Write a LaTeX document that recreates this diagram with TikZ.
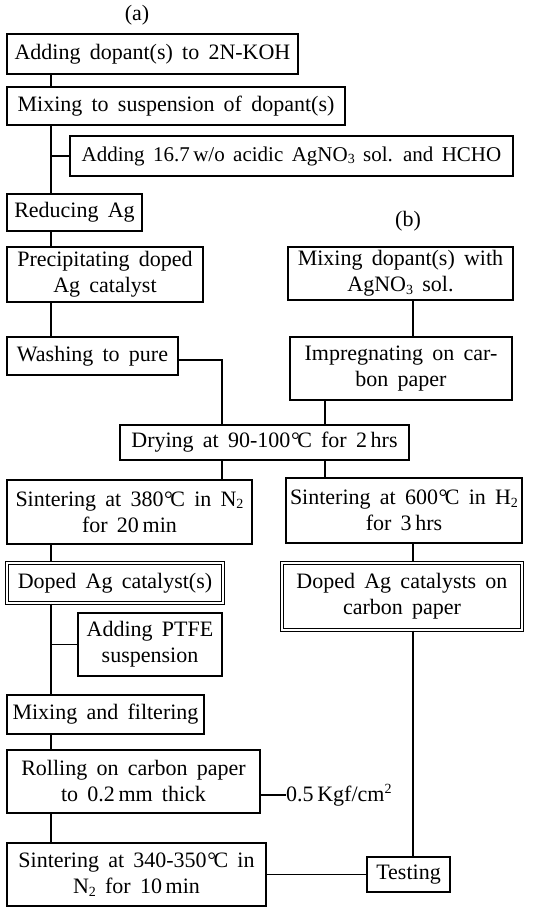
\documentclass[tikz,border=0pt]{standalone}
\usepackage{fontspec}
\setmainfont{Liberation Serif}
\newcommand\dC{\kern0.03em{°}\kern-0.12em C}
\newcommand\sbs[1]{\raisebox{-0.12em}{\fontsize{14}{14}\selectfont #1}}
\newcommand\sps[1]{\raisebox{0.38em}{\fontsize{14}{14}\selectfont #1}}
\begin{document}
\begin{tikzpicture}[x=1pt,y=-1pt,
  txt/.style={font={\fontsize{22}{26}\selectfont\spaceskip=0.42em plus 0.05em minus 0.05em\relax}},
  small/.style={font={\fontsize{21}{26}\selectfont\spaceskip=0.4em plus 0.05em minus 0.05em\relax}},
  box/.style={txt, draw, line width=1.2pt, inner sep=0pt, align=center},
  dbox/.style={box, double, double distance=1.3pt, line width=1.2pt},
  conn/.style={line width=1.2pt}]
\useasboundingbox (0,0) rectangle (536,908);
\coordinate (L) at (51,0);
\coordinate (M) at (222,0);
\coordinate (Q) at (325,0);
\coordinate (R) at (413,0);

\node[txt] (la) at (137,15) {(a)};
\node[txt] (lb) at (408,221) {(b)};

\node[box, minimum width=291, minimum height=40] (n1) at (152.5,54) {Adding dopant(s) to 2N-KOH};
\node[box, minimum width=338, minimum height=38] (n2) at (176,106) {Mixing to suspension of dopant(s)};
\node[box, small, minimum width=443, minimum height=40] (n3) at (291.5,156) {Adding 16.7\,w/o acidic AgNO\sbs{3} sol. and HCHO};
\node[box, minimum width=135, minimum height=37] (n4) at (74.5,212.5) {Reducing Ag};
\node[box, minimum width=196, minimum height=55] (n5) at (105,274.5) {Precipitating doped\\Ag catalyst};
\node[box, minimum width=171, minimum height=38] (n6) at (92.5,356) {Washing to pure};

\node[box, minimum width=225, minimum height=53] (m1) at (400.5,273.5) {Mixing dopant(s) with\\AgNO\sbs{3} sol.};
\node[box, minimum width=222, minimum height=63] (m2) at (401,368.5) {Impregnating on car-\\bon paper};

\node[box, minimum width=289, minimum height=35] (d) at (264.5,442.5) {Drying at 90-100\dC{} for 2\,hrs};

\node[box, minimum width=245, minimum height=64] (s1) at (129.5,512) {Sintering at 380\dC{} in N\sbs{2}\\for 20\,min};
\node[box, minimum width=236, minimum height=65] (s2) at (404,510.5) {Sintering at 600\dC{} in H\sbs{2}\\for 3\,hrs};

\node[dbox, minimum width=216, minimum height=40] (c1) at (115,583) {Doped Ag catalyst(s)};
\node[dbox, minimum width=240, minimum height=67] (c2) at (402,596.5) {Doped Ag catalysts on\\carbon paper};

\node[box, minimum width=144, minimum height=63] (p) at (150,644.5) {Adding PTFE\\suspension};
\node[box, minimum width=197, minimum height=39] (f) at (105.5,714.5) {Mixing and filtering};
\node[box, minimum width=253, minimum height=63] (r) at (133.5,781.5) {Rolling on carbon paper\\to 0.2\,mm thick};
\node[txt, anchor=west, inner sep=0pt] (k) at (286,795) {0.5\,Kgf/cm\sps{2}};
\node[box, minimum width=259, minimum height=63] (s3) at (136.5,874.5) {Sintering at 340-350\dC{} in\\N\sbs{2} for 10\,min};
\node[box, minimum width=83, minimum height=35] (t) at (408.5,874.5) {Testing};

% left column
\draw[conn] (n1.south -| L) -- (n2.north -| L);
\draw[conn] (n2.south -| L) -- (n4.north -| L);
\draw[conn] (n3.west -| L) -- (n3.west);
\draw[conn] (n4.south -| L) -- (n5.north -| L);
\draw[conn] (n5.south -| L) -- (n6.north -| L);
\draw[conn] ([yshift=-4pt]n6.east) -| (d.north -| M);
% right column
\draw[conn] (m1.south -| R) -- (m2.north -| R);
\draw[conn] (m2.south -| Q) -- (d.north -| Q);
\draw[conn] (d.south -| M) -- (s1.north -| M);
\draw[conn] (d.south -| Q) -- (s2.north -| Q);
\draw[conn] (s1.south -| L) -- (c1.north -| L);
\draw[conn] (s2.south -| R) -- (c2.north -| R);
\draw[conn] (c1.south -| L) -- (f.north -| L);
\draw[conn] (p.west -| L) -- (p.west);
\draw[conn] (f.south -| L) -- (r.north -| L);
\draw[conn] (k.west -| r.east) -- (k.west);
\draw[conn] (r.south -| L) -- (s3.north -| L);
\draw[conn] (s3.east) -- (t.west);
\draw[conn] (c2.south -| R) -- (t.north -| R);
\end{tikzpicture}
\end{document}
